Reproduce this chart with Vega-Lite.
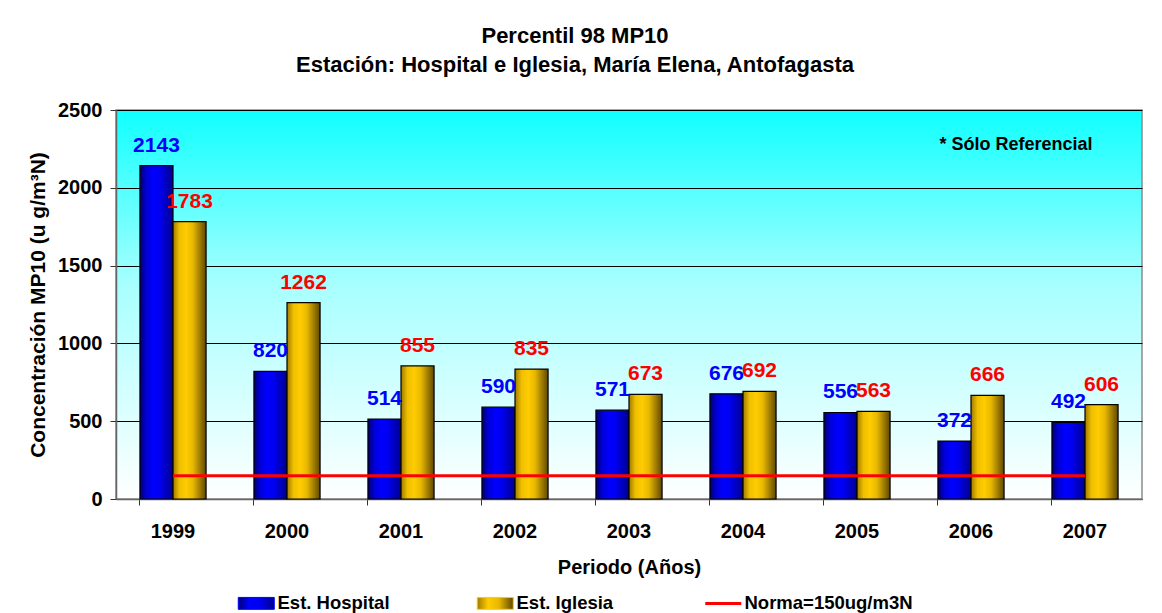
{
  "$schema": "https://vega.github.io/schema/vega-lite/v6.json",
  "width": 1026,
  "height": 389,
  "autosize": {"type": "none"},
  "padding": {"left": 116, "top": 110, "right": 20, "bottom": 114},
  "background": "white",
  "title": {
    "text": ["Percentil 98 MP10", "Estación: Hospital e Iglesia, María Elena, Antofagasta"],
    "font": "Liberation Sans",
    "fontSize": 22,
    "fontWeight": "bold",
    "color": "black",
    "anchor": "middle",
    "frame": "group",
    "dx": -54,
    "offset": 23,
    "lineHeight": 29
  },
  "config": {
    "font": "Liberation Sans",
    "view": {
      "stroke": "#8c8c8c",
      "strokeWidth": 1.5,
      "fill": {
        "gradient": "linear",
        "x1": 0, "y1": 0, "x2": 0, "y2": 1,
        "stops": [
          {"offset": 0, "color": "#10FFFF"},
          {"offset": 0.45, "color": "#A8FFFF"},
          {"offset": 1, "color": "#FFFFFF"}
        ]
      }
    },
    "axis": {
      "labelFont": "Liberation Sans",
      "labelFontWeight": "bold",
      "labelFontSize": 20,
      "labelColor": "black",
      "titleFont": "Liberation Sans",
      "titleFontWeight": "bold",
      "titleFontSize": 20,
      "titleColor": "black",
      "domainColor": "#666666",
      "domainWidth": 1.5,
      "tickColor": "#333333",
      "tickSize": 6,
      "tickWidth": 1
    }
  },
  "datasets": {
    "bars": [
      {"year": "1999", "series": "Est. Hospital", "value": 2143},
      {"year": "1999", "series": "Est. Iglesia", "value": 1783},
      {"year": "2000", "series": "Est. Hospital", "value": 820},
      {"year": "2000", "series": "Est. Iglesia", "value": 1262},
      {"year": "2001", "series": "Est. Hospital", "value": 514},
      {"year": "2001", "series": "Est. Iglesia", "value": 855},
      {"year": "2002", "series": "Est. Hospital", "value": 590},
      {"year": "2002", "series": "Est. Iglesia", "value": 835},
      {"year": "2003", "series": "Est. Hospital", "value": 571},
      {"year": "2003", "series": "Est. Iglesia", "value": 673},
      {"year": "2004", "series": "Est. Hospital", "value": 676},
      {"year": "2004", "series": "Est. Iglesia", "value": 692},
      {"year": "2005", "series": "Est. Hospital", "value": 556},
      {"year": "2005", "series": "Est. Iglesia", "value": 563},
      {"year": "2006", "series": "Est. Hospital", "value": 372},
      {"year": "2006", "series": "Est. Iglesia", "value": 666},
      {"year": "2007", "series": "Est. Hospital", "value": 492},
      {"year": "2007", "series": "Est. Iglesia", "value": 606}
    ],
    "norma": [
      {"year": "1999", "serie": "Norma=150ug/m3N", "value": 150},
      {"year": "2000", "serie": "Norma=150ug/m3N", "value": 150},
      {"year": "2001", "serie": "Norma=150ug/m3N", "value": 150},
      {"year": "2002", "serie": "Norma=150ug/m3N", "value": 150},
      {"year": "2003", "serie": "Norma=150ug/m3N", "value": 150},
      {"year": "2004", "serie": "Norma=150ug/m3N", "value": 150},
      {"year": "2005", "serie": "Norma=150ug/m3N", "value": 150},
      {"year": "2006", "serie": "Norma=150ug/m3N", "value": 150},
      {"year": "2007", "serie": "Norma=150ug/m3N", "value": 150}
    ],
    "nota": [
      {"year": "2006", "value": 2275, "text": "* Sólo Referencial"}
    ]
  },
  "encoding": {
    "x": {
      "field": "year",
      "type": "nominal",
      "scale": {"paddingInner": 0.42, "paddingOuter": 0.21},
      "axis": {
        "title": "Periodo (Años)",
        "labelAngle": 0,
        "bandPosition": 0,
        "labelPadding": 16,
        "titlePadding": 16,
        "grid": false
      }
    },
    "y": {
      "field": "value",
      "type": "quantitative",
      "scale": {"domain": [0, 2500], "nice": false},
      "axis": {
        "title": "Concentración MP10 (u g/m³N)",
        "titleFontSize": 21,
        "format": "d",
        "values": [0, 500, 1000, 1500, 2000, 2500],
        "grid": true,
        "gridColor": "black",
        "gridWidth": 1,
        "labelPadding": 8,
        "titlePadding": 9
      }
    }
  },
  "layer": [
    {
      "data": {"name": "bars"},
      "transform": [{"filter": "datum.series === 'Est. Hospital'"}],
      "mark": {
        "type": "bar",
        "stroke": "black",
        "strokeWidth": 1.2,
        "fill": {
          "gradient": "linear",
          "x1": 0, "y1": 0, "x2": 1, "y2": 0,
          "stops": [
            {"offset": 0, "color": "#000070"},
            {"offset": 0.2, "color": "#0000D8"},
            {"offset": 0.4, "color": "#0000FF"},
            {"offset": 0.6, "color": "#0000F0"},
            {"offset": 1, "color": "#000090"}
          ]
        }
      },
      "encoding": {
        "xOffset": {"field": "series", "type": "nominal", "scale": {"domain": ["Est. Hospital", "Est. Iglesia"]}}
      }
    },
    {
      "data": {"name": "bars"},
      "transform": [{"filter": "datum.series === 'Est. Iglesia'"}],
      "mark": {
        "type": "bar",
        "stroke": "black",
        "strokeWidth": 1.2,
        "fill": {
          "gradient": "linear",
          "x1": 0, "y1": 0, "x2": 1, "y2": 0,
          "stops": [
            {"offset": 0, "color": "#A07A00"},
            {"offset": 0.2, "color": "#F0C000"},
            {"offset": 0.4, "color": "#FFCC00"},
            {"offset": 0.6, "color": "#E8B800"},
            {"offset": 1, "color": "#604800"}
          ]
        }
      },
      "encoding": {
        "xOffset": {"field": "series", "type": "nominal", "scale": {"domain": ["Est. Hospital", "Est. Iglesia"]}}
      }
    },
    {
      "data": {"name": "bars"},
      "mark": {
        "type": "text",
        "font": "Liberation Sans",
        "fontSize": 21,
        "fontWeight": "bold",
        "baseline": "alphabetic",
        "dy": -14
      },
      "encoding": {
        "xOffset": {"field": "series", "type": "nominal", "scale": {"domain": ["Est. Hospital", "Est. Iglesia"]}},
        "text": {"field": "value", "type": "quantitative", "format": "d"},
        "color": {
          "condition": {"test": "datum.series === 'Est. Hospital'", "value": "#0000FF"},
          "value": "#FF0000"
        }
      }
    },
    {
      "data": {"name": "norma"},
      "mark": {"type": "line", "strokeWidth": 3},
      "encoding": {
        "color": {
          "field": "serie",
          "type": "nominal",
          "scale": {
            "domain": ["Est. Hospital", "Est. Iglesia", "Norma=150ug/m3N"],
            "range": ["#0000FF", "#FFCC00", "#FF0000"]
          },
          "legend": {
            "title": null,
            "orient": "none",
            "direction": "horizontal",
            "legendX": 131,
            "legendY": 484,
            "padding": 0,
            "columnPadding": 85,
            "symbolSize": 1296,
            "labelFont": "Liberation Sans",
            "labelFontWeight": "bold",
            "labelFontSize": 18.5,
            "labelColor": "black",
            "labelOffset": 12,
            "labelLimit": 300,
            "encode": {
              "symbols": {
                "update": {
                  "shape": {"signal": "datum.value === 'Norma=150ug/m3N' ? 'M-1,0H1' : 'M-1,-0.33H1V0.33H-1Z'"},
                  "fill": {"signal": "datum.value === 'Est. Hospital' ? {gradient: 'linear', x1: 0, y1: 0, x2: 1, y2: 0, stops: [{offset: 0, color: '#000070'}, {offset: 0.3, color: '#0000FF'}, {offset: 0.6, color: '#0000F0'}, {offset: 1, color: '#000090'}]} : (datum.value === 'Est. Iglesia' ? {gradient: 'linear', x1: 0, y1: 0, x2: 1, y2: 0, stops: [{offset: 0, color: '#A07A00'}, {offset: 0.3, color: '#FFCC00'}, {offset: 0.6, color: '#E8B800'}, {offset: 1, color: '#604800'}]} : 'transparent')"},
                  "stroke": {"signal": "datum.value === 'Norma=150ug/m3N' ? '#FF0000' : '#000000'"},
                  "strokeWidth": {"signal": "datum.value === 'Norma=150ug/m3N' ? 3 : 1"},
                  "opacity": {"value": 1}
                }
              }
            }
          }
        }
      }
    },
    {
      "data": {"name": "nota"},
      "mark": {
        "type": "text",
        "font": "Liberation Sans",
        "fontSize": 18,
        "fontWeight": "bold",
        "color": "black",
        "align": "center",
        "baseline": "middle",
        "dx": 45
      },
      "encoding": {
        "text": {"field": "text", "type": "nominal"}
      }
    }
  ]
}
